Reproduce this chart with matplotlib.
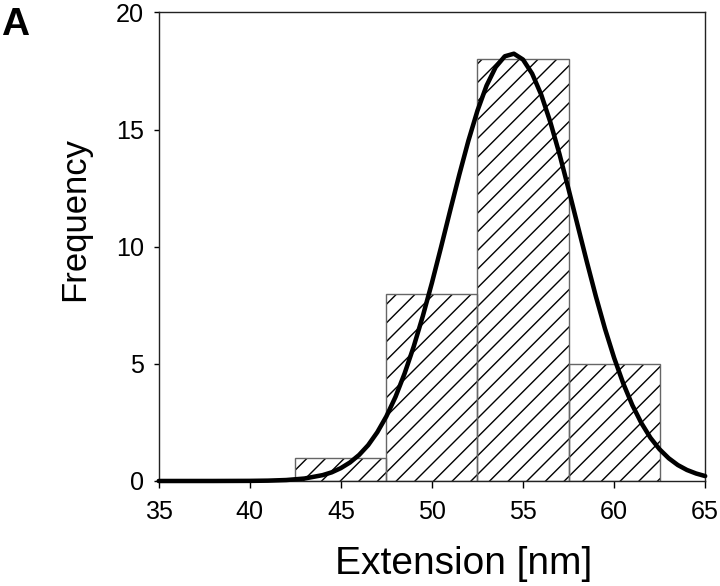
import matplotlib
matplotlib.use('Agg')
import matplotlib.pyplot as plt

# Histogram bins (centre, count), bin width 5 nm.
bin_centers = [45, 50, 55, 60]
counts = [1, 8, 18, 5]
bin_width = 5

# Fitted curve.
curve_x = [35, 36, 38, 40, 41, 42, 43, 44, 44.5, 45, 45.5, 46, 46.5, 47, 47.5,
           48, 48.5, 49, 49.5, 50, 50.5, 51, 51.5, 52, 52.5, 53, 53.5, 54,
           54.5, 55, 55.5, 56, 56.5, 57, 57.5, 58, 58.5, 59, 59.5, 60, 60.5,
           61, 61.5, 62, 62.5, 63, 63.5, 64, 64.5, 65]
curve_y = [0.0, 0.0, 0.0004, 0.005, 0.015, 0.041, 0.105, 0.25, 0.37, 0.55,
           0.79, 1.11, 1.53, 2.08, 2.76, 3.59, 4.59, 5.74, 7.04, 8.46, 9.98,
           11.54, 13.07, 14.52, 15.81, 16.88, 17.67, 18.13, 18.24, 17.99,
           17.39, 16.49, 15.32, 13.96, 12.46, 10.91, 9.37, 7.88, 6.50, 5.26,
           4.17, 3.24, 2.47, 1.84, 1.35, 0.97, 0.68, 0.47, 0.32, 0.21]

x_ticks = [35, 40, 45, 50, 55, 60, 65]
y_ticks = [0, 5, 10, 15, 20]

# dpi 112 so that the '//' hatch gets the wider spacing of the original
DPI = 112
plt.rcParams['font.family'] = ['Liberation Sans', 'DejaVu Sans']
plt.rcParams['hatch.linewidth'] = 0.9

fig = plt.figure(figsize=(720 / DPI, 586 / DPI), dpi=DPI)
ax = fig.add_axes([0.2204, 0.1792, 0.759, 0.7995])

# hatch in black, then thin grey outline on top
ax.bar(bin_centers, counts, width=bin_width, color='white',
       edgecolor='black', linewidth=0, hatch='//', zorder=2)
ax.bar(bin_centers, counts, width=bin_width, fill=False,
       edgecolor='#666666', linewidth=0.9, zorder=2.5)
ax.plot(curve_x, curve_y, color='black', lw=2.9, zorder=3,
        solid_capstyle='round', clip_on=False)

ax.set_xlim(35, 65)
ax.set_ylim(0, 20)
ax.set_xticks(x_ticks)
ax.set_yticks(y_ticks)
ax.tick_params(direction='out', width=0.9, labelsize=16.2)
ax.tick_params(axis='y', length=3.4, pad=6)
ax.tick_params(axis='x', length=4.5, pad=8)
for s in ax.spines.values():
    s.set_linewidth(0.9)
    s.set_color('#222222')

fig.text(0.644, 0.037, 'Extension [nm]', fontsize=25, ha='center', va='center')
fig.text(0.104, 0.627, 'Frequency', fontsize=22.3, rotation=90,
         ha='center', va='center')
fig.text(0.002, 0.940, 'A', fontsize=25, fontweight='bold', va='baseline', ha='left')

fig.savefig('out.png', dpi=DPI)
